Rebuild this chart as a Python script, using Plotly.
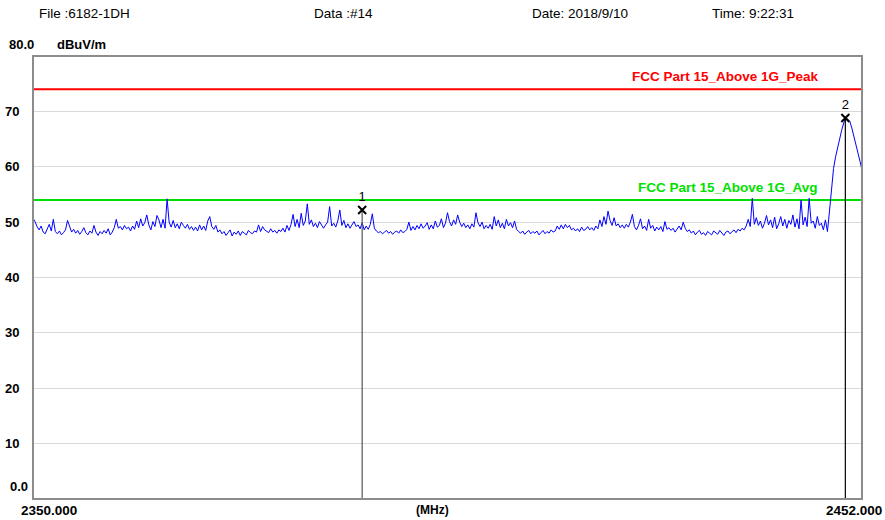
import numpy as np
import plotly.graph_objects as go

# ---------------- data ----------------
f_start, f_stop = 2350.0, 2452.0
level = [
    50.7, 50.1, 49.2, 48.6,  49.3, 48.2, 47.9, 48.8,  49.6, 48.4, 50.5, 48.3,
    47.9, 48.4, 47.7, 48.1,  48.6, 50.3, 49.1, 48.2,  48.7, 48.0, 48.5, 47.8,
    48.3, 49.0, 48.1, 47.7,  48.4, 48.0, 49.4, 48.2,  47.6, 48.3, 47.9, 48.5,
    48.0, 48.8, 47.7, 48.2,  49.0, 50.5, 48.9, 49.2,  48.6, 49.4, 48.8, 49.1,
    48.4, 49.3, 48.7, 50.2,  49.0, 50.6, 49.3, 49.9,  51.3, 49.5, 48.6, 50.1,
    49.2, 51.2, 50.4, 49.0,  50.5, 48.9, 54.2, 50.0,  49.1, 50.3, 49.0, 49.7,
    48.8, 50.0, 49.4, 48.9,  49.6, 48.7, 49.2, 48.5,  49.1, 48.4, 49.5, 48.6,
    49.3, 48.5, 50.2, 51.0,  49.2, 48.7, 49.4, 48.2,  48.6, 47.9, 48.3, 47.6,
    48.1, 48.6, 47.5, 48.2,  47.8, 48.4, 47.6, 48.3,  48.0, 47.7, 48.5, 48.1,
    47.9, 48.4, 48.2, 49.5,  48.3, 49.2, 48.6, 48.4,  48.1, 48.8, 48.2, 48.5,
    48.0, 48.6, 48.3, 48.9,  48.2, 49.4, 48.5, 49.6,  51.4, 49.2, 50.5, 49.0,
    51.6, 49.4, 50.2, 53.3,  49.6, 50.4, 49.2, 49.8,  49.0, 50.1, 49.4, 48.9,
    49.5, 50.0, 52.8, 49.3,  49.8, 49.1, 50.2, 52.2,  49.4, 50.3, 49.0, 49.7,
    48.9, 49.6, 50.1, 49.2,  49.5, 48.8, 49.9, 48.6,  49.3, 48.7, 49.6, 51.5,
    48.9, 48.4, 48.1, 48.3,  47.9, 48.2, 48.5, 48.0,  48.3, 47.8, 48.2, 48.4,
    48.0, 48.6, 48.1, 48.3,  48.7, 50.0, 48.5, 49.2,  48.6, 49.4, 48.8, 49.7,
    48.9, 49.3, 49.9, 48.7,  49.5, 48.8, 50.2, 49.1,  49.4, 50.6, 49.0, 49.8,
    51.7, 50.1, 49.3, 50.4,  49.6, 51.3, 50.0, 49.2,  49.8, 49.0, 49.5, 48.8,
    49.7, 49.1, 51.7, 49.9,  49.2, 50.0, 48.8, 49.4,  48.9, 49.6, 48.7, 51.0,
    49.3, 50.4, 49.0, 49.8,  48.8, 50.5, 49.3, 49.9,  49.0, 50.2, 48.7, 48.3,
    48.0, 48.4, 47.8, 48.2,  48.5, 47.9, 48.3, 48.0,  48.4, 47.7, 48.1, 48.5,
    47.9, 48.3, 48.0, 48.6,  48.2, 48.4, 49.3, 48.7,  49.5, 48.8, 49.6, 49.0,
    49.4, 48.6, 48.9, 48.4,  48.8, 48.3, 49.1, 48.5,  48.7, 49.2, 48.6, 49.0,
    48.5, 49.3, 48.8, 50.4,  49.2, 51.0, 49.6, 52.0,  50.3, 49.4, 50.8, 49.3,
    49.7, 49.0, 49.5, 48.9,  49.6, 49.1, 50.0, 51.4,  49.2, 48.6, 49.4, 50.6,
    48.8, 49.3, 48.5, 50.5,  48.9, 49.4, 48.4, 49.1,  48.6, 49.2, 48.3, 50.1,
    48.7, 49.0, 48.5, 48.9,  48.2, 48.8, 49.3, 48.6,  50.0, 48.9, 48.3, 48.6,
    48.0, 48.4, 47.7, 48.2,  48.5, 47.8, 48.1, 47.6,  48.3, 48.0, 47.7, 48.4,
    48.1, 47.8, 48.5, 48.0,  47.6, 48.2, 48.4, 47.9,  48.3, 48.6, 48.1, 48.7,
    48.4, 48.9, 48.6, 49.3,  50.5, 49.2, 54.3, 49.6,  50.8, 49.4, 50.2, 48.9,
    49.8, 51.2, 49.5, 50.4,  49.0, 50.9, 48.8, 49.7,  51.0, 49.3, 50.5, 48.9,
    50.3, 49.6, 51.3, 49.1,  50.6, 48.8, 54.0, 49.5,  50.9, 49.2, 54.3, 49.8,
    50.2, 48.9, 51.0, 49.4,  49.8, 48.6, 50.4, 48.3,  52.0, 56.5, 59.7, 61.8,
    63.6, 65.0, 66.6, 67.9,  68.9, 68.6, 68.2, 67.0,  65.6, 64.3, 62.8, 61.0,
    59.4,
]
freq = np.linspace(f_start, f_stop, len(level))

limit_names = ["FCC Part 15_Above 1G_Peak", "FCC Part 15_Above 1G_Avg"]
limit_values = [74.0, 54.0]
limit_colors = ["#ff0000", "#00e000"]

marker_ids = ["1", "2"]
marker_freq = [2390.5, 2449.95]
marker_level = [52.2, 68.8]
marker_line_colors = ["#555555", "#000000"]

y_ticks = [10, 20, 30, 40, 50, 60, 70]
header_text = ["File :6182-1DH", "Data :#14", "Date: 2018/9/10", "Time: 9:22:31"]

FONT = "Liberation Sans, Arial, sans-serif"
L, R, T, B, W, H = 33, 23, 56, 21, 885, 520
PW = W - L - R

# ---------------- figure ----------------
fig = go.Figure()

for name, v, c in zip(limit_names, limit_values, limit_colors):
    fig.add_trace(go.Scatter(x=[f_start, f_stop], y=[v, v], mode="lines",
                             line=dict(color=c, width=2), hoverinfo="skip", name=name))

fig.add_trace(go.Scatter(x=freq, y=level, mode="lines",
                         line=dict(color="#0000ff", width=1), name="trace"))

for mid, mf, ml, mc in zip(marker_ids, marker_freq, marker_level, marker_line_colors):
    fig.add_trace(go.Scatter(x=[mf, mf], y=[0, ml], mode="lines",
                             line=dict(color=mc, width=1.2), hoverinfo="skip"))
    fig.add_trace(go.Scatter(x=[mf], y=[ml], mode="markers+text", text=[mid],
                             textposition="top center",
                             textfont=dict(family=FONT, size=13, color="#000000"),
                             marker=dict(symbol="x-thin-open", size=8, color="#000000",
                                         line=dict(color="#000000", width=2))))

# limit labels
fig.add_annotation(x=2447.0, y=74.0, xref="x", yref="y", text="<b>FCC Part 15_Above 1G_Peak</b>",
                   showarrow=False, xanchor="right", yanchor="bottom", yshift=3,
                   font=dict(family=FONT, size=13.5, color="#ff0000"))
fig.add_annotation(x=2446.8, y=54.0, xref="x", yref="y", text="<b>FCC Part 15_Above 1G_Avg</b>",
                   showarrow=False, xanchor="right", yanchor="bottom", yshift=3,
                   font=dict(family=FONT, size=13.5, color="#00e000"))

# y tick labels
for t in y_ticks:
    fig.add_annotation(x=0, y=t, xref="paper", yref="y", text=f"<b>{t}</b>", showarrow=False,
                       xanchor="left", yanchor="middle", xshift=-30,
                       font=dict(family=FONT, size=13, color="#000000"))
fig.add_annotation(x=0, y=0, xref="paper", yref="y", text="<b>0.0</b>", showarrow=False,
                   xanchor="left", yanchor="middle", xshift=-25, yshift=13,
                   font=dict(family=FONT, size=13, color="#000000"))
fig.add_annotation(x=0, y=80, xref="paper", yref="y", text="<b>80.0</b>", showarrow=False,
                   xanchor="left", yanchor="middle", xshift=-26, yshift=12,
                   font=dict(family=FONT, size=13, color="#000000"))
fig.add_annotation(x=0, y=80, xref="paper", yref="y", text="<b>dBuV/m</b>", showarrow=False,
                   xanchor="left", yanchor="middle", xshift=22, yshift=12,
                   font=dict(family=FONT, size=13, color="#000000"))

# x labels
fig.add_annotation(x=0, y=0, xref="paper", yref="y", text="<b>2350.000</b>", showarrow=False,
                   xanchor="left", yanchor="top", xshift=-14, yshift=-2,
                   font=dict(family=FONT, size=13.5, color="#000000"))
fig.add_annotation(x=1, y=0, xref="paper", yref="y", text="<b>2452.000</b>", showarrow=False,
                   xanchor="right", yanchor="top", xshift=22, yshift=-2,
                   font=dict(family=FONT, size=13.5, color="#000000"))
fig.add_annotation(x=(f_start + f_stop) / 2 - 1.8, y=0, xref="x", yref="y", text="<b>(MHz)</b>",
                   showarrow=False, xanchor="center", yanchor="top", yshift=-2,
                   font=dict(family=FONT, size=12, color="#000000"))

# header
for txt, px in zip(header_text, [37, 312, 530, 710]):
    fig.add_annotation(x=(px - L) / PW, y=1, xref="paper", yref="paper", text=txt, showarrow=False,
                       xanchor="left", yanchor="middle", yshift=43,
                       font=dict(family=FONT, size=13.5, color="#000000"))

# border
fig.add_shape(type="rect", xref="paper", yref="paper", x0=0, x1=1, y0=0, y1=1,
              line=dict(color="#8c8c8c", width=2), layer="above")

fig.update_layout(
    width=W, height=H,
    margin=dict(l=L, r=R, t=T, b=B),
    paper_bgcolor="#ffffff", plot_bgcolor="#ffffff",
    showlegend=False,
    xaxis=dict(range=[f_start, f_stop], showgrid=False, zeroline=False, showticklabels=False,
               ticks="", fixedrange=True),
    yaxis=dict(range=[0, 80], tickvals=y_ticks, showgrid=True, gridcolor="#d9d9d9", gridwidth=1,
               zeroline=False, showticklabels=False, ticks="", fixedrange=True),
)

fig.write_html("out.html", config={"displayModeBar": False},
               post_script="document.body.style.margin='0';document.body.style.overflow='hidden';")
